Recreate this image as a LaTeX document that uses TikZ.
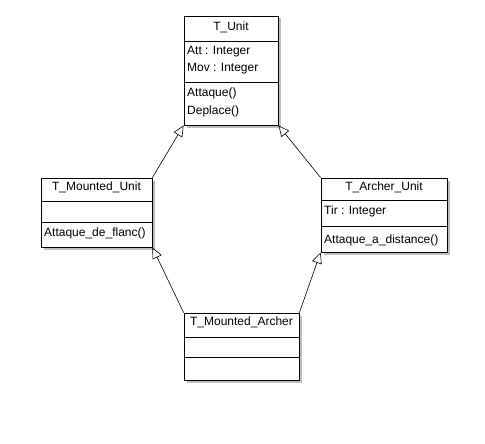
\documentclass[tikz,border=0pt]{standalone}
\usepackage{fontspec}
\setmainfont{Liberation Sans}
\usetikzlibrary{arrows.meta,shadows}
\begin{document}
\begin{tikzpicture}[x=1pt, y=-1pt,
    classbox/.style={draw, thick, fill=white, inner sep=0pt,
      drop shadow={shadow xshift=2.5pt, shadow yshift=-2.5pt, fill=black!25, opacity=1}},
    member/.style={font=\fontsize{12}{14}\selectfont, inner sep=0pt, anchor=base west},
    title/.style={font=\fontsize{12}{14}\selectfont, inner sep=0pt, anchor=base},
    inherit/.style={-{Triangle[open, length=11pt, width=10pt]}, semithick}]
  \useasboundingbox (0,0) rectangle (485,444);
  % classes
  \node[classbox, minimum width=94pt, minimum height=109pt] (unit) at (231,70.5) {};
  \draw[thick] (unit.west |- 0,41) -- (unit.east |- 0,41);
  \draw[thick] (unit.west |- 0,82) -- (unit.east |- 0,82);
  \node[title] (unitname) at (231,31) {T\_Unit};
  \node[member] (att) at (187,55) {Att : Integer};
  \node[member] (mov) at (187,71.5) {Mov : Integer};
  \node[member] (attaque) at (187,96) {Attaque()};
  \node[member] (deplace) at (187,114) {Deplace()};

  \node[classbox, minimum width=111pt, minimum height=69pt] (mounted) at (96.5,212.5) {};
  \draw[thick] (mounted.west |- 0,201) -- (mounted.east |- 0,201);
  \draw[thick] (mounted.west |- 0,222) -- (mounted.east |- 0,222);
  \node[title] (mountedname) at (96.5,190) {T\_Mounted\_Unit};
  \node[member] (flanc) at (44,236.5) {Attaque\_de\_flanc()};

  \node[classbox, minimum width=126pt, minimum height=74pt] (archer) at (384,215) {};
  \draw[thick] (archer.west |- 0,200) -- (archer.east |- 0,200);
  \draw[thick] (archer.west |- 0,226) -- (archer.east |- 0,226);
  \node[title] (archername) at (384,190) {T\_Archer\_Unit};
  \node[member] (tir) at (324,214.5) {Tir : Integer};
  \node[member] (distance) at (324,243.5) {Attaque\_a\_distance()};

  \node[classbox, minimum width=115pt, minimum height=67pt] (marcher) at (241.5,346.5) {};
  \draw[thick] (marcher.west |- 0,337) -- (marcher.east |- 0,337);
  \draw[thick] (marcher.west |- 0,357) -- (marcher.east |- 0,357);
  \node[title] (marchername) at (241.5,325) {T\_Mounted\_Archer};

  % inheritance
  \draw[inherit] (mounted.north east) -- (unit.south west);
  \draw[inherit] (archer.north west) -- (unit.south east);
  \draw[inherit] (marcher.north west) -- (mounted.south east);
  \draw[inherit] (marcher.north east) -- (archer.south west);
\end{tikzpicture}
\end{document}
